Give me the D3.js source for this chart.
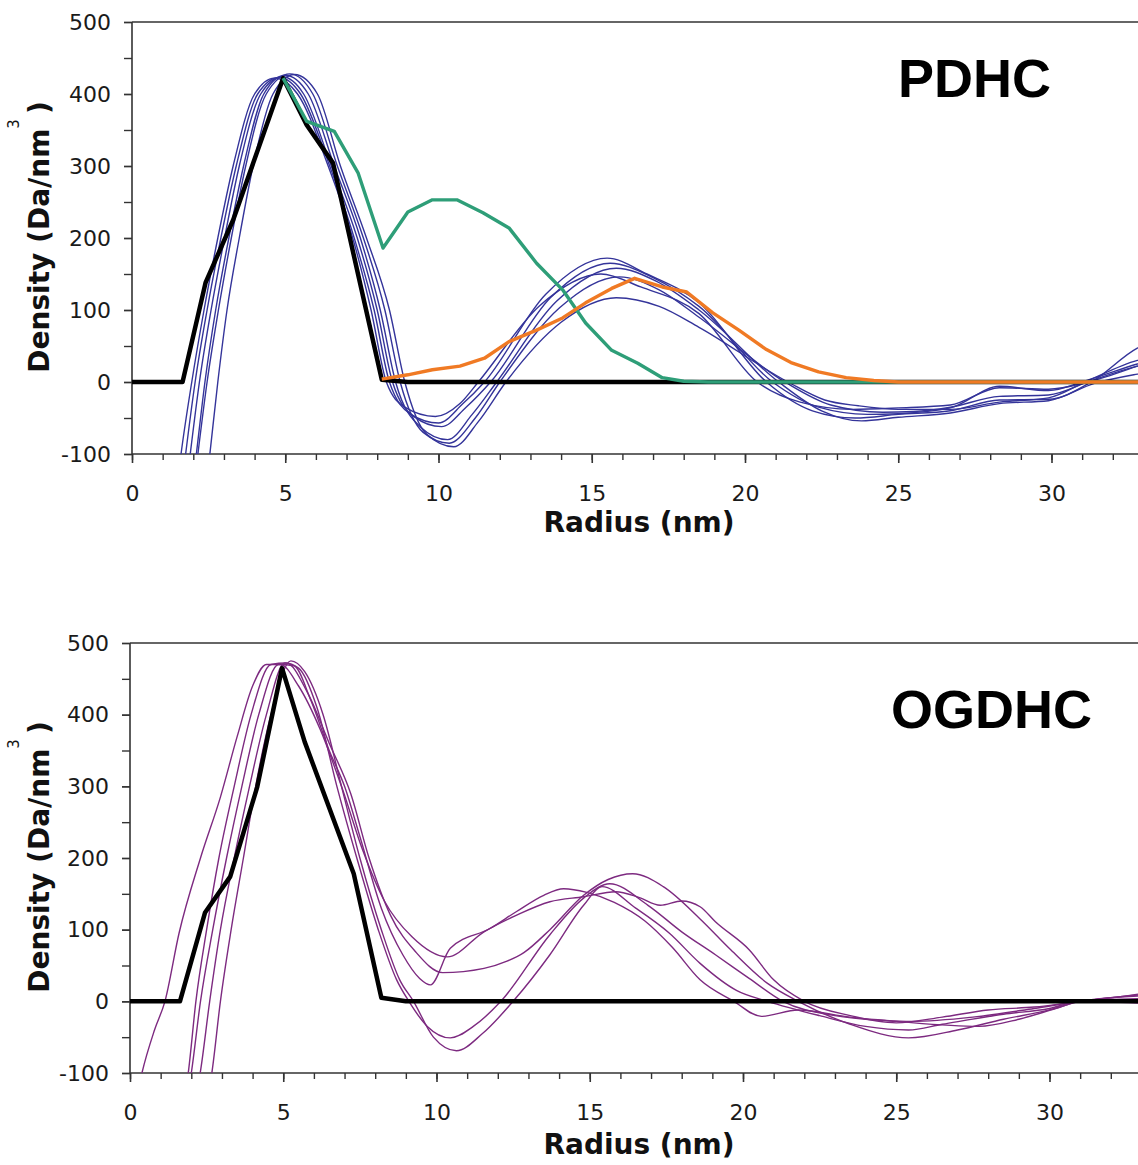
<!DOCTYPE html>
<html>
<head>
<meta charset="utf-8">
<script src="https://cdn.jsdelivr.net/npm/d3@7"></script>
<style>
  body { margin: 0; background: #fff; }
  svg { display: block; }
</style>
</head>
<body>
<div id="chart"></div>
<script>
// radial density profiles - PDHC (top) and OGDHC (bottom)

// ---- data: [radius nm, density Da/nm^3] ----
const xTicksMajor = [0, 5, 10, 15, 20, 25, 30];
const yTicksMajor = [-100, 0, 100, 200, 300, 400, 500];

// PDHC model (black), green and orange profiles
const pdhcModel = [[0, 0], [1.65, 0], [2.4, 138], [3.3, 225], [4.93, 422], [5.7, 357], [6.56, 304], [8.15, 3], [9, 0], [33.2, 0]];
const pdhcGreen = [[4.93, 422], [5.7, 362], [6.6, 348], [7.38, 290], [8.19, 186], [9.0, 236], [9.8, 253], [10.6, 253], [11.45, 235],
    [12.3, 214], [13.2, 165], [14.05, 128], [14.8, 82], [15.65, 44], [16.5, 26], [17.3, 6], [18.0, 1], [18.8, 0], [33.2, 0]];
const pdhcOrange = [[8.15, 4], [9.0, 10], [9.8, 17], [10.7, 22], [11.5, 33], [12.3, 56], [13.2, 72], [14.05, 89], [14.8, 110],
    [15.65, 130], [16.4, 144], [17.3, 132], [18.1, 125], [18.95, 96], [19.8, 72], [20.7, 45], [21.5, 27], [22.4, 14], [23.3, 6],
    [24.2, 2], [25, 0], [33.2, 0]];

// PDHC reconstructions (blue)
const pdhcBlue1 = [[1.35, -190], [1.6, -100], [1.95, 0], [2.35, 100], [2.8, 200], [3.3, 300], [4.0, 400], [4.65, 422], [5.4, 400],
    [6.4, 300], [7.2, 200], [7.8, 100], [8.3, 0], [8.9, -35], [9.9, -48], [10.7, -30], [11.3, 0], [13.3, 106], [15.3, 150],
    [16.6, 132], [18.5, 95], [20.4, 0], [21.8, -28], [23.5, -38], [25, -36], [26.7, -32], [28.3, -8], [29.9, -10], [31.2, 0],
    [32.8, 22], [33.2, 28]];
const pdhcBlue2 = [[1.5, -190], [1.75, -100], [2.06, 0], [2.45, 100], [2.9, 200], [3.4, 300], [4.1, 400], [4.8, 423], [5.5, 400],
    [6.45, 300], [7.25, 200], [7.9, 100], [8.4, 0], [9.1, -45], [10.0, -57], [10.8, -30], [11.5, 0], [13.5, 122], [15.5, 172],
    [16.8, 150], [18.5, 110], [20.7, 0], [22.2, -40], [23.6, -50], [25, -45], [26.7, -40], [28.3, -25], [29.9, -24], [31.3, 0],
    [32.8, 47], [33.2, 55]];
const pdhcBlue3 = [[1.65, -190], [1.9, -100], [2.2, 0], [2.58, 100], [3.02, 200], [3.5, 300], [4.2, 400], [4.9, 424], [5.6, 400],
    [6.5, 300], [7.35, 200], [8.0, 100], [8.5, 0], [9.2, -48], [10.1, -62], [10.9, -35], [11.7, 0], [13.65, 117], [15.6, 165],
    [17, 145], [18.5, 105], [20.9, 0], [22.4, -35], [24.0, -45], [25, -44], [26.7, -36], [28.3, -6], [29.9, -12], [31.2, 3],
    [32.8, 25], [33.2, 30]];
const pdhcBlue4 = [[1.85, -190], [2.1, -100], [2.38, 0], [2.73, 100], [3.16, 200], [3.64, 300], [4.3, 400], [5.0, 426], [5.75, 400],
    [6.6, 300], [7.45, 200], [8.1, 100], [8.6, 0], [9.4, -62], [10.3, -80], [11.1, -45], [11.9, 0], [13.85, 112], [15.8, 158],
    [17.1, 140], [18.5, 100], [21.1, 0], [22.5, -40], [23.8, -54], [25, -49], [26.7, -43], [28.3, -30], [29.9, -26], [31.4, -2],
    [32.8, 11], [33.2, 14]];
const pdhcBlue5 = [[1.9, -190], [2.15, -100], [2.45, 0], [2.82, 100], [3.24, 200], [3.71, 300], [4.38, 400], [5.15, 428], [5.9, 400],
    [6.7, 300], [7.55, 200], [8.25, 100], [8.75, 0], [9.5, -70], [10.35, -85], [11.2, -50], [12.0, 0], [13.95, 103], [15.9, 146],
    [17.2, 128], [18.5, 90], [21.3, 0], [22.8, -32], [24.5, -42], [25.5, -41], [26.7, -35], [28.3, -20], [29.9, -18], [31.3, 2],
    [32.8, 22], [33.2, 26]];
const pdhcBlue6 = [[2.3, -190], [2.54, -100], [2.8, 0], [3.1, 100], [3.5, 200], [3.95, 300], [4.6, 400], [5.3, 427], [6.05, 400],
    [6.8, 300], [7.65, 200], [8.4, 100], [8.9, 0], [9.6, -72], [10.5, -90], [11.3, -55], [12.2, 0], [14.0, 83], [15.8, 117],
    [17.2, 105], [18.5, 76], [21.4, 0], [22.6, -25], [23.7, -33], [25, -38], [26.7, -38], [28.3, -28], [29.9, -22], [31.1, 0],
    [32.8, 30], [33.2, 34]];

// OGDHC model (black) and reconstructions (purple)
const ogdhcModel = [[0, 0], [1.63, 0], [2.45, 124], [3.27, 174], [4.15, 299], [4.96, 465], [5.7, 362], [7.3, 178], [8.2, 5], [9.0, 0], [33.2, 0]];
const ogdhcPurple1 = [[0.1, -160], [0.39, -100], [0.8, -40], [1.14, 0], [1.6, 95], [2.3, 200], [2.95, 285], [3.5, 370], [4.0, 440],
    [4.45, 470], [4.9, 470], [5.5, 440], [6.2, 380], [6.9, 300], [7.6, 210], [8.3, 140], [9.2, 90], [10.35, 62], [11.55, 97],
    [12.6, 120], [13.7, 139], [14.8, 146], [15.85, 153], [16.6, 145], [17.3, 134], [18.0, 140], [18.6, 132], [19.1, 111],
    [20.2, 72], [21.0, 30], [22.0, 0], [23.5, -20], [25.0, -30], [26.5, -22], [28.0, -12], [29.5, -8], [31, 0], [32, 5], [33.2, 10]];
const ogdhcPurple2 = [[1.65, -160], [1.9, -100], [2.15, 0], [2.5, 100], [2.9, 200], [3.4, 300], [3.95, 400], [4.6, 470], [5.1, 472],
    [5.8, 430], [6.5, 360], [7.2, 290], [7.8, 200], [8.5, 120], [9.3, 70], [10.2, 40], [11.55, 46], [12.3, 56], [12.85, 68],
    [13.7, 100], [14.8, 148], [15.6, 170], [16.4, 178], [17.4, 160], [18.6, 115], [19.6, 72], [20.8, 25], [21.8, 0], [23.5, -32],
    [25.4, -51], [27, -40], [28.5, -25], [30, -12], [31, 0], [33.2, 8]];
const ogdhcPurple3 = [[1.75, -160], [2.0, -100], [2.3, 0], [2.7, 100], [3.15, 200], [3.65, 300], [4.2, 400], [4.85, 470], [5.35, 468],
    [5.9, 420], [6.5, 350], [7.0, 300], [7.5, 230], [8.2, 130], [8.9, 65], [9.45, 32], [9.8, 23], [10.45, 74], [11.76, 102],
    [12.6, 125], [13.5, 148], [14.15, 157], [14.9, 152], [15.8, 138], [16.8, 112], [17.7, 75], [18.6, 30], [19.7, 0], [20.6, -21],
    [21.8, -12], [23.5, -22], [25.5, -28], [27.5, -22], [29.5, -10], [31, 0], [32, 5], [33.2, 12]];
const ogdhcPurple4 = [[2.0, -160], [2.29, -100], [2.6, 0], [2.95, 100], [3.4, 200], [3.9, 300], [4.45, 400], [5.05, 472], [5.5, 465],
    [6.1, 410], [6.75, 300], [7.4, 200], [8.1, 100], [8.7, 30], [9.1, 0], [9.7, -35], [10.45, -51], [11.2, -35], [12.1, 0],
    [13.7, 93], [14.8, 144], [15.65, 164], [16.9, 134], [18.0, 97], [19.1, 65], [20.2, 32], [21.3, 0], [23, -20], [25, -28],
    [27.7, -35], [29, -25], [30.2, -10], [31, 0], [33.2, 4]];
const ogdhcPurple5 = [[2.4, -160], [2.67, -100], [2.95, 0], [3.3, 100], [3.7, 200], [4.1, 300], [4.6, 400], [5.25, 475], [5.7, 460],
    [6.3, 400], [6.9, 300], [7.5, 200], [8.2, 100], [8.8, 30], [9.25, 0], [9.9, -50], [10.65, -69], [11.5, -45], [12.5, 0],
    [13.7, 65], [14.8, 134], [15.4, 160], [16.5, 130], [17.6, 95], [18.6, 53], [19.8, 15], [20.8, 0], [22.5, -20], [24, -35],
    [25.4, -40], [26.5, -32], [28.5, -18], [30, -10], [31, 0], [33.2, -3]];

// ---- layout ----
const W = 1138, H = 1165;
const svg = d3.select("#chart").append("svg").attr("width", W).attr("height", H);

const panels = [
    {
        id: "pdhc", top: 22, bottom: 454, left: 132, name: "PDHC", nameX: 898, nameY: 97, titleY: 237, xTitleY: 532,
        smooth: [pdhcBlue1, pdhcBlue2, pdhcBlue3, pdhcBlue4, pdhcBlue5, pdhcBlue6], smoothColor: "#34349a",
        model: pdhcModel,
        extra: [{ d: pdhcGreen, color: "#2e9e78" }, { d: pdhcOrange, color: "#f07a24" }]
    },
    {
        id: "ogdhc", top: 643, bottom: 1073, left: 130, name: "OGDHC", nameX: 891, nameY: 728, titleY: 857, xTitleY: 1154,
        smooth: [ogdhcPurple1, ogdhcPurple2, ogdhcPurple3, ogdhcPurple4, ogdhcPurple5], smoothColor: "#7d2a80",
        model: ogdhcModel,
        extra: []
    }
];

panels.forEach(p => {
    const x = d3.scaleLinear().domain([0, (W - p.left) / 30.65]).range([p.left, W]);
    const y = d3.scaleLinear().domain([-100, 500]).range([p.bottom, p.top]);
    const g = svg.append("g");

    g.append("clipPath").attr("id", "clip-" + p.id)
        .append("rect").attr("x", p.left).attr("y", p.top - 10).attr("width", W - p.left).attr("height", p.bottom - p.top + 10);

    // axes
    const axisColor = "#333";
    const tickFont = "22px 'DejaVu Sans'";
    g.append("g").attr("transform", `translate(0,${p.bottom})`)
        .call(d3.axisBottom(x).tickValues(d3.range(0, 33, 1)).tickSize(6).tickFormat(""))
        .call(a => a.select(".domain").remove())
        .call(a => a.selectAll(".tick line").attr("stroke", axisColor).attr("stroke-width", 1.4));
    g.append("g").attr("transform", `translate(0,${p.bottom})`)
        .call(d3.axisBottom(x).tickValues(xTicksMajor).tickSize(9).tickPadding(22).tickFormat(d => String(d)))
        .call(a => a.select(".domain").remove())
        .call(a => a.selectAll(".tick line").attr("stroke", axisColor).attr("stroke-width", 1.6))
        .call(a => a.selectAll("text").attr("fill", "#1a1a1a").style("font", tickFont));
    g.append("g").attr("transform", `translate(${p.left},0)`)
        .call(d3.axisLeft(y).tickValues(d3.range(-100, 501, 50)).tickSize(8).tickFormat(""))
        .call(a => a.select(".domain").remove())
        .call(a => a.selectAll(".tick line").attr("stroke", axisColor).attr("stroke-width", 1.4));
    g.append("g").attr("transform", `translate(${p.left},0)`)
        .call(d3.axisLeft(y).tickValues(yTicksMajor).tickSize(8).tickPadding(13).tickFormat(d => String(d)))
        .call(a => a.select(".domain").remove())
        .call(a => a.selectAll(".tick line").attr("stroke", axisColor).attr("stroke-width", 1.4))
        .call(a => a.selectAll("text").attr("fill", "#1a1a1a").style("font", tickFont));

    // frame: left, bottom and top lines
    g.append("line").attr("x1", p.left).attr("x2", p.left).attr("y1", p.top).attr("y2", p.bottom)
        .attr("stroke", axisColor).attr("stroke-width", 1.6);
    g.append("line").attr("x1", p.left).attr("x2", W).attr("y1", p.bottom).attr("y2", p.bottom)
        .attr("stroke", axisColor).attr("stroke-width", 1.6);
    g.append("line").attr("x1", p.left).attr("x2", W).attr("y1", p.top).attr("y2", p.top)
        .attr("stroke", axisColor).attr("stroke-width", 1.4);

    const plot = g.append("g").attr("clip-path", `url(#clip-${p.id})`);
    const smoothLine = d3.line().x(d => x(d[0])).y(d => y(d[1])).curve(d3.curveMonotoneX);
    const polyLine = d3.line().x(d => x(d[0])).y(d => y(d[1]));

    p.smooth.forEach(s => {
        plot.append("path").attr("d", smoothLine(s)).attr("fill", "none")
            .attr("stroke", p.smoothColor).attr("stroke-width", 1.4);
    });
    plot.append("path").attr("d", polyLine(p.model)).attr("fill", "none")
        .attr("stroke", "#000").attr("stroke-width", 4.5).attr("stroke-linejoin", "round");
    p.extra.forEach(e => {
        plot.append("path").attr("d", polyLine(e.d)).attr("fill", "none")
            .attr("stroke", e.color).attr("stroke-width", 3.4).attr("stroke-linejoin", "round");
    });

    // titles
    g.append("text").attr("x", 639).attr("y", p.xTitleY).attr("text-anchor", "middle")
        .style("font", "bold 28px 'DejaVu Sans'").attr("fill", "#111").text("Radius (nm)");

    const yt = g.append("text").attr("transform", `translate(49,${p.titleY}) rotate(-90)`)
        .attr("text-anchor", "middle").style("font", "bold 28px 'DejaVu Sans'").attr("fill", "#111");
    yt.append("tspan").text("Density (Da/nm");
    yt.append("tspan").attr("dy", -30).style("font-size", "15px").style("font-weight", "normal").text("3");
    yt.append("tspan").attr("dy", 30).attr("dx", 5).text(")");

    g.append("text").attr("x", p.nameX).attr("y", p.nameY)
        .style("font", "bold 54px 'Liberation Sans'").attr("fill", "#000").text(p.name);
});
</script>
</body>
</html>
